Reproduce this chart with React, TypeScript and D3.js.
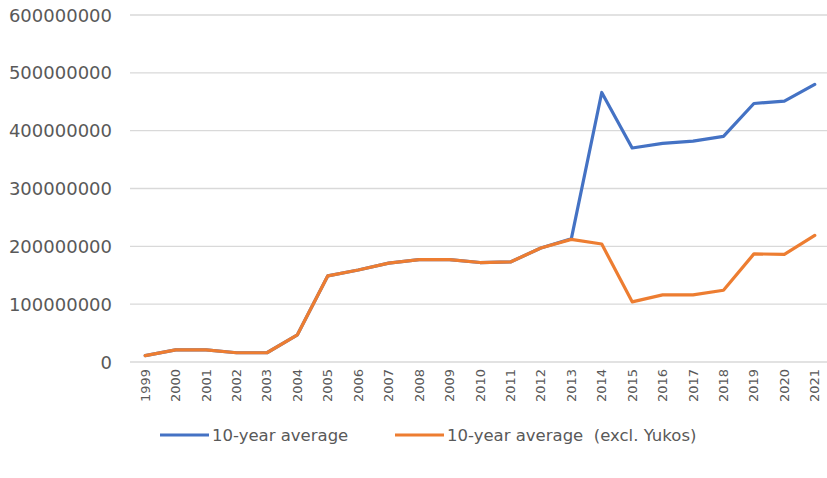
import { useEffect, useRef } from 'react';
import * as d3 from 'd3';

const YEARS = ['1999', '2000', '2001', '2002', '2003', '2004', '2005', '2006', '2007', '2008', '2009', '2010',
  '2011', '2012', '2013', '2014', '2015', '2016', '2017', '2018', '2019', '2020', '2021'];

// 10-year average
const AVG_ALL = [11e6, 21e6, 21e6, 16e6, 16e6, 47e6, 149e6, 159e6, 171e6, 177e6, 177e6, 172e6,
  173e6, 197e6, 213e6, 466e6, 370e6, 378e6, 382e6, 390e6, 447e6, 451e6, 480e6];

// 10-year average (excl. Yukos)
const AVG_EXCL = [11e6, 21e6, 21e6, 16e6, 16e6, 47e6, 149e6, 159e6, 171e6, 177e6, 177e6, 172e6,
  173e6, 197e6, 212e6, 204e6, 104e6, 116e6, 116e6, 124e6, 187e6, 186e6, 219e6];

const Y_TICKS = [0, 100e6, 200e6, 300e6, 400e6, 500e6, 600e6];

const SERIES = [
  { name: '10-year average', values: AVG_ALL, color: '#4472C4' },
  { name: '10-year average  (excl. Yukos)', values: AVG_EXCL, color: '#ED7D31' },
];

export default function App() {
  const svgRef = useRef<SVGSVGElement>(null);
  const width = 827;
  const height = 478;

  useEffect(() => {
    if (!svgRef.current) return;
    const svg = d3.select(svgRef.current);
    svg.selectAll('*').remove();

    const left = 130;
    const right = 827;
    const x = d3.scalePoint<string>().domain(YEARS).range([left, 830]).padding(0.5);
    const y = d3.scaleLinear().domain([0, 600e6]).range([362, 15]);

    const font = '"DejaVu Sans", sans-serif';
    const textColor = '#595959';

    // gridlines
    svg.append('g')
      .selectAll('line')
      .data(Y_TICKS)
      .enter()
      .append('line')
      .attr('x1', left)
      .attr('x2', right)
      .attr('y1', d => y(d))
      .attr('y2', d => y(d))
      .attr('stroke', '#d9d9d9')
      .attr('stroke-width', 1.3);

    // y labels
    svg.append('g')
      .selectAll('text')
      .data(Y_TICKS)
      .enter()
      .append('text')
      .attr('x', 112)
      .attr('y', d => y(d))
      .attr('text-anchor', 'end')
      .attr('dominant-baseline', 'central')
      .attr('font-family', font)
      .attr('font-size', '18px')
      .attr('fill', textColor)
      .text(d => String(d));

    // x labels (rotated)
    svg.append('g')
      .selectAll('text')
      .data(YEARS)
      .enter()
      .append('text')
      .attr('transform', d => `translate(${x(d)},369) rotate(-90)`)
      .attr('text-anchor', 'end')
      .attr('dominant-baseline', 'central')
      .attr('font-family', font)
      .attr('font-size', '13px')
      .attr('fill', textColor)
      .text(d => d);

    const line = d3.line<number>()
      .x((d, i) => x(YEARS[i]) as number)
      .y(d => y(d));

    // blue first, orange on top
    SERIES.forEach(s => {
      svg.append('path')
        .datum(s.values)
        .attr('d', line)
        .attr('fill', 'none')
        .attr('stroke', s.color)
        .attr('stroke-width', 3.2)
        .attr('stroke-linejoin', 'round')
        .attr('stroke-linecap', 'round');
    });

    // legend
    const legendX = [160, 395];
    const ly = 435;
    SERIES.forEach((s, i) => {
      const g = svg.append('g');
      g.append('line')
        .attr('x1', legendX[i])
        .attr('x2', legendX[i] + 49)
        .attr('y1', ly)
        .attr('y2', ly)
        .attr('stroke', s.color)
        .attr('stroke-width', 3.2);
      g.append('text')
        .attr('x', legendX[i] + 52)
        .attr('y', ly)
        .attr('dominant-baseline', 'central')
        .attr('font-family', font)
        .attr('font-size', '16.5px')
        .attr('fill', textColor)
        .style('white-space', 'pre')
        .text(s.name);
    });
  }, []);

  return (
    <svg
      ref={svgRef}
      width={width}
      height={height}
      style={{ position: 'absolute', left: 0, top: 0, background: '#fff' }}
    />
  );
}
